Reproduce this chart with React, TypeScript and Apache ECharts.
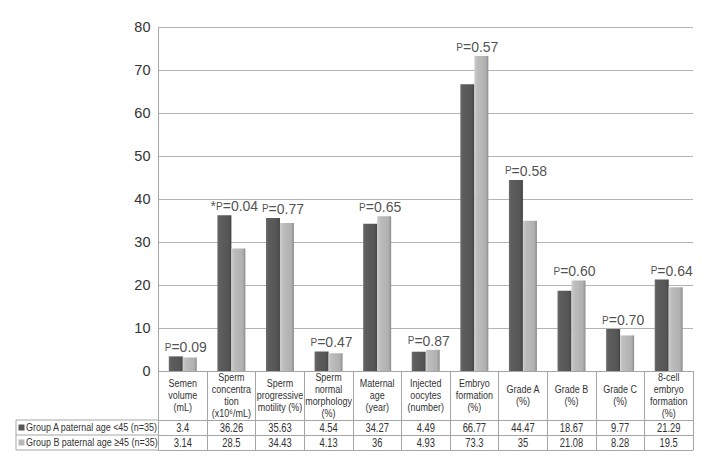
import React, { useEffect, useRef } from "react";
import * as echarts from "echarts";

const categories = [
  "Semen\nvolume\n(mL)",
  "Sperm\nconcentra\ntion\n(x10⁶/mL)",
  "Sperm\nprogressive\nmotility (%)",
  "Sperm\nnormal\nmorphology\n(%)",
  "Maternal\nage\n(year)",
  "Injected\noocytes\n(number)",
  "Embryo\nformation\n(%)",
  "Grade A\n(%)",
  "Grade B\n(%)",
  "Grade C\n(%)",
  "8-cell\nembryo\nformation\n(%)",
];
const groupA = [3.4, 36.26, 35.63, 4.54, 34.27, 4.49, 66.77, 44.47, 18.67, 9.77, 21.29];
const groupB = [3.14, 28.5, 34.43, 4.13, 36, 4.93, 73.3, 35, 21.08, 8.28, 19.5];
const pValues = ["0.09", "0.04", "0.77", "0.47", "0.65", "0.87", "0.57", "0.58", "0.60", "0.70", "0.64"];
const pMarks = ["", "*", "", "", "", "", "", "", "", "", ""];
const seriesNames = ["Group A paternal age <45 (n=35)", "Group B paternal age ≥45 (n=35)"];
const yTicks = { min: 0, max: 80, interval: 10 };

const W = 725;
const H = 466;
const GRID_LEFT = 158.5;
const GRID_RIGHT = 32;
const GRID_TOP = 27.3;
const GRID_BOTTOM = 95;
const HEADER_H = 49;
const ROW_H = 15;
const LEGEND_LEFT = 16;
const SANS = "'Liberation Sans', Arial, sans-serif";
const LINE = "#a6a6a6";
const NARROW_SCALE = 0.78;

const darkFill = new echarts.graphic.LinearGradient(0, 0, 1, 0, [
  { offset: 0, color: "#6e6e6e" },
  { offset: 0.15, color: "#5e5e5e" },
  { offset: 0.8, color: "#555555" },
  { offset: 1, color: "#444444" },
]);
const lightFill = new echarts.graphic.LinearGradient(0, 0, 1, 0, [
  { offset: 0, color: "#cfcfcf" },
  { offset: 0.2, color: "#bdbdbd" },
  { offset: 0.8, color: "#b0b0b0" },
  { offset: 1, color: "#8e8e8e" },
]);

export default function App() {
  const ref = useRef<HTMLDivElement>(null);
  useEffect(() => {
    if (!ref.current) return;
    const chart = echarts.init(ref.current, undefined, { renderer: "svg", width: W, height: H });
    const tableTop = H - GRID_BOTTOM;
    const rowA = tableTop + HEADER_H;
    const rowB = rowA + ROW_H;
    const rowEnd = rowB + ROW_H;
    const baseX = {
      type: "category",
      data: categories,
      position: "bottom",
      gridIndex: 0,
      axisLine: { show: true, lineStyle: { color: LINE, width: 1 } },
      axisTick: { show: true, interval: 0, alignWithLabel: false, lineStyle: { color: LINE } },
      axisLabel: { show: false },
    };
    const maxVals = groupA.map((a, i) => Math.max(a, groupB[i]));
    const cellText = (text: string, x: number, y: number, size: number) => ({
      type: "text",
      x,
      y,
      scaleX: NARROW_SCALE,
      style: {
        text,
        align: "center",
        verticalAlign: "middle",
        fontSize: size,
        lineHeight: 12,
        fontFamily: SANS,
        fill: "#333",
      },
    });
    chart.setOption({
      animation: false,
      backgroundColor: "#fff",
      grid: { left: GRID_LEFT, right: GRID_RIGHT, top: GRID_TOP, bottom: GRID_BOTTOM, containLabel: false },
      xAxis: [
        { ...baseX, axisTick: { ...baseX.axisTick, length: HEADER_H } },
        { ...baseX, offset: HEADER_H, axisTick: { ...baseX.axisTick, length: ROW_H } },
        { ...baseX, offset: HEADER_H + ROW_H, axisTick: { ...baseX.axisTick, length: ROW_H } },
        { ...baseX, offset: HEADER_H + 2 * ROW_H, axisTick: { show: false } },
      ],
      yAxis: {
        type: "value",
        min: yTicks.min,
        max: yTicks.max,
        interval: yTicks.interval,
        axisLine: { show: true, lineStyle: { color: LINE } },
        axisTick: { show: false },
        axisLabel: { color: "#333", fontSize: 14.5, fontFamily: SANS, margin: 8 },
        splitLine: { show: true, lineStyle: { color: "#b4b4b4", width: 1 } },
      },
      series: [
        {
          name: seriesNames[0],
          type: "bar",
          xAxisIndex: 0,
          data: groupA,
          barWidth: 14,
          barGap: "0%",
          itemStyle: { color: darkFill },
          silent: true,
        },
        {
          name: seriesNames[1],
          type: "bar",
          xAxisIndex: 0,
          data: groupB,
          barWidth: 14,
          barGap: "0%",
          itemStyle: { color: lightFill },
          silent: true,
        },
        {
          type: "scatter",
          xAxisIndex: 0,
          data: maxVals,
          symbolSize: 0,
          silent: true,
          label: {
            show: true,
            position: "top",
            distance: 2,
            offset: [3, 0],
            formatter: (p: any) => {
              const i = p.dataIndex;
              const m = pMarks[i] ? `{n|${pMarks[i]}}` : "";
              return `${m}{s|P}{n|=${pValues[i]}}`;
            },
            rich: {
              n: { fontSize: 14, fontFamily: SANS, color: "#222" },
              s: { fontSize: 10, fontFamily: SANS, color: "#222" },
            },
          },
        },
        {
          type: "custom",
          xAxisIndex: 0,
          clip: false,
          silent: true,
          data: categories.map((_, i) => [i, 0]),
          renderItem: (_params: any, api: any) => {
            const i = api.value(0);
            const [cx, y0] = api.coord([i, 0]);
            return {
              type: "group",
              children: [
                cellText(categories[i], cx, y0 + HEADER_H / 2, 11.5),
                cellText(String(groupA[i]), cx, y0 + HEADER_H + ROW_H / 2, 12),
                cellText(String(groupB[i]), cx, y0 + HEADER_H + ROW_H * 1.5, 12),
              ],
            };
          },
        },
      ],
      graphic: [
        { type: "line", shape: { x1: LEGEND_LEFT, y1: rowA, x2: GRID_LEFT, y2: rowA }, style: { stroke: LINE, lineWidth: 1 } },
        { type: "line", shape: { x1: LEGEND_LEFT, y1: rowB, x2: GRID_LEFT, y2: rowB }, style: { stroke: LINE, lineWidth: 1 } },
        { type: "line", shape: { x1: LEGEND_LEFT, y1: rowEnd, x2: GRID_LEFT, y2: rowEnd }, style: { stroke: LINE, lineWidth: 1 } },
        { type: "line", shape: { x1: LEGEND_LEFT, y1: rowA, x2: LEGEND_LEFT, y2: rowEnd }, style: { stroke: LINE, lineWidth: 1 } },
        { type: "rect", shape: { x: LEGEND_LEFT + 2.5, y: rowA + ROW_H / 2 - 3, width: 6, height: 6 }, style: { fill: "#575757" } },
        { type: "rect", shape: { x: LEGEND_LEFT + 2.5, y: rowB + ROW_H / 2 - 3, width: 6, height: 6 }, style: { fill: "#b8b8b8" } },
        {
          type: "text",
          x: LEGEND_LEFT + 10,
          y: rowA + ROW_H / 2,
          scaleX: NARROW_SCALE,
          style: { text: seriesNames[0], fontSize: 11.5, fontFamily: SANS, fill: "#333", verticalAlign: "middle", align: "left" },
        },
        {
          type: "text",
          x: LEGEND_LEFT + 10,
          y: rowB + ROW_H / 2,
          scaleX: NARROW_SCALE,
          style: { text: seriesNames[1], fontSize: 11.5, fontFamily: SANS, fill: "#333", verticalAlign: "middle", align: "left" },
        },
      ],
    });
    return () => chart.dispose();
  }, []);
  return (
    <div
      ref={ref}
      style={{ position: "fixed", left: 0, top: 0, width: W, height: H, background: "#fff" }}
    />
  );
}
